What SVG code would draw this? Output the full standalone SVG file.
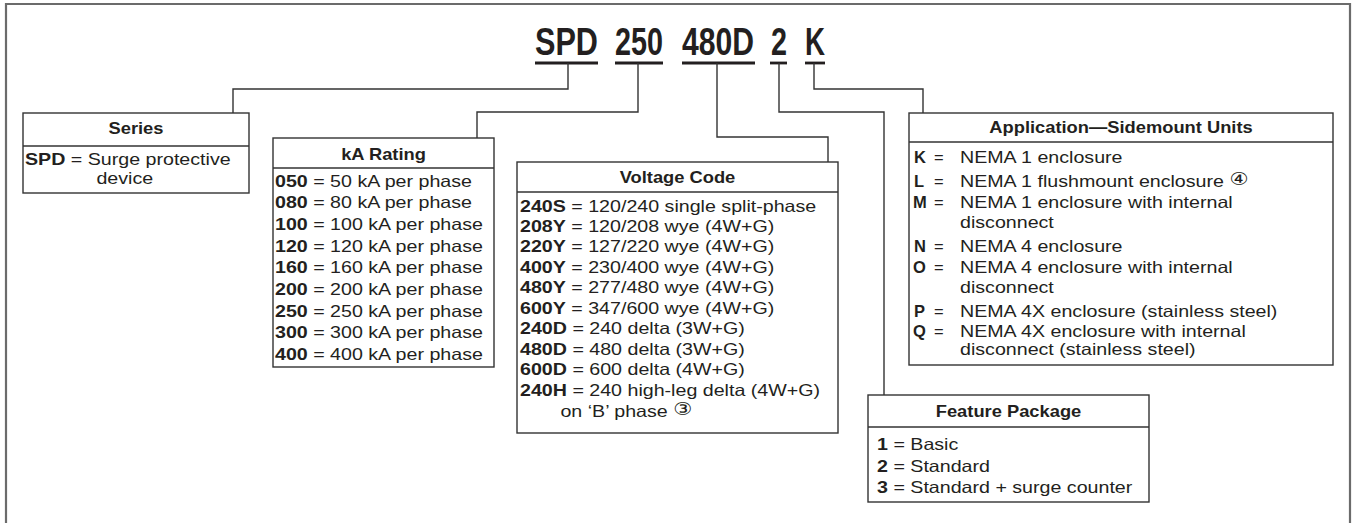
<svg xmlns="http://www.w3.org/2000/svg" width="1354" height="523" viewBox="0 0 1354 523">
<style>
.frame{fill:none;stroke:#6b6b6b;stroke-width:2.2}
.box{fill:#fff;stroke:#333;stroke-width:1.4}
.div{stroke:#333;stroke-width:1.4}
.conn{fill:none;stroke:#333;stroke-width:1.4}
.ul{stroke:#231f20;stroke-width:2.8}
.code{font-family:"Liberation Sans",Arial,sans-serif;font-weight:bold;font-size:38px;fill:#231f20}
.t{font-family:"Liberation Sans",Arial,sans-serif;font-size:16.5px;fill:#231f20}
.h{font-family:"Liberation Sans",Arial,sans-serif;font-size:16.5px;font-weight:bold;fill:#231f20;text-anchor:middle}
.b{font-weight:bold}
.note{font-family:"DejaVu Sans","Noto Sans CJK SC",sans-serif;font-size:18px}
</style>
<path class="frame" d="M6,530 V4 H1350 V530"/>
<g id="title">
<text class="code" x="535" y="55" textLength="63" lengthAdjust="spacingAndGlyphs">SPD</text>
<text class="code" x="615" y="55" textLength="48" lengthAdjust="spacingAndGlyphs">250</text>
<text class="code" x="682" y="55" textLength="72" lengthAdjust="spacingAndGlyphs">480D</text>
<text class="code" x="771" y="55" textLength="16" lengthAdjust="spacingAndGlyphs">2</text>
<text class="code" x="805" y="55" textLength="20" lengthAdjust="spacingAndGlyphs">K</text>
<line class="ul" x1="535" y1="63" x2="598" y2="63"/>
<line class="ul" x1="615" y1="63" x2="663" y2="63"/>
<line class="ul" x1="682" y1="63" x2="755" y2="63"/>
<line class="ul" x1="770" y1="63" x2="787" y2="63"/>
<line class="ul" x1="805" y1="63" x2="825" y2="63"/>
</g>
<g id="connectors">
<path class="conn" d="M568,63 V89 H233 V113"/>
<path class="conn" d="M638,63 V112 H477 V138"/>
<path class="conn" d="M717,63 V137 H828 V162"/>
<path class="conn" d="M779,63 V112 H884 V395"/>
<path class="conn" d="M814,63 V89 H923 V113"/>
</g>
<g id="series">
<rect class="box" x="23" y="113" width="226" height="80"/>
<line class="div" x1="23" y1="146" x2="249" y2="146"/>
<g transform="translate(136,0) scale(1.11,1)"><text class="h" x="0" y="134">Series</text></g>
<g transform="translate(25,0) scale(1.19,1)">
<text class="t" x="0" y="165"><tspan class="b">SPD</tspan> = Surge protective</text>
<text class="t" x="60" y="184">device</text>
</g>
</g>
<g id="ka-rating">
<rect class="box" x="273" y="138" width="221" height="229"/>
<line class="div" x1="273" y1="168" x2="494" y2="168"/>
<g transform="translate(383.5,0) scale(1.11,1)"><text class="h" x="0" y="160">kA Rating</text></g>
<g transform="translate(275,0) scale(1.19,1)">
<text class="t" x="0" y="187"><tspan class="b">050</tspan> = 50 kA per phase</text>
<text class="t" x="0" y="208.5"><tspan class="b">080</tspan> = 80 kA per phase</text>
<text class="t" x="0" y="230"><tspan class="b">100</tspan> = 100 kA per phase</text>
<text class="t" x="0" y="251.7"><tspan class="b">120</tspan> = 120 kA per phase</text>
<text class="t" x="0" y="273.3"><tspan class="b">160</tspan> = 160 kA per phase</text>
<text class="t" x="0" y="295"><tspan class="b">200</tspan> = 200 kA per phase</text>
<text class="t" x="0" y="316.7"><tspan class="b">250</tspan> = 250 kA per phase</text>
<text class="t" x="0" y="338.3"><tspan class="b">300</tspan> = 300 kA per phase</text>
<text class="t" x="0" y="360"><tspan class="b">400</tspan> = 400 kA per phase</text>
</g>
</g>
<g id="voltage-code">
<rect class="box" x="517" y="162" width="321" height="271"/>
<line class="div" x1="517" y1="192" x2="838" y2="192"/>
<g transform="translate(677.5,0) scale(1.11,1)"><text class="h" x="0" y="183">Voltage Code</text></g>
<g transform="translate(520,0) scale(1.19,1)">
<text class="t" x="0" y="212"><tspan class="b">240S</tspan> = 120/240 single split-phase</text>
<text class="t" x="0" y="232"><tspan class="b">208Y</tspan> = 120/208 wye (4W+G)</text>
<text class="t" x="0" y="252.5"><tspan class="b">220Y</tspan> = 127/220 wye (4W+G)</text>
<text class="t" x="0" y="273"><tspan class="b">400Y</tspan> = 230/400 wye (4W+G)</text>
<text class="t" x="0" y="293.5"><tspan class="b">480Y</tspan> = 277/480 wye (4W+G)</text>
<text class="t" x="0" y="314"><tspan class="b">600Y</tspan> = 347/600 wye (4W+G)</text>
<text class="t" x="0" y="334.5"><tspan class="b">240D</tspan> = 240 delta (3W+G)</text>
<text class="t" x="0" y="355"><tspan class="b">480D</tspan> = 480 delta (3W+G)</text>
<text class="t" x="0" y="375.5"><tspan class="b">600D</tspan> = 600 delta (4W+G)</text>
<text class="t" x="0" y="396"><tspan class="b">240H</tspan> = 240 high-leg delta (4W+G)</text>
<text class="t" x="34" y="417">on ‘B’ phase <tspan class="note" dy="-2">③</tspan></text>
</g>
</g>
<g id="application">
<rect class="box" x="909" y="113" width="424" height="252"/>
<line class="div" x1="909" y1="142" x2="1333" y2="142"/>
<g transform="translate(1121,0) scale(1.11,1)"><text class="h" x="0" y="133">Application—Sidemount Units</text></g>
<g>
<text class="t b" x="914" y="163">K</text><text class="t" x="934" y="163">=</text>
<text class="t b" x="914" y="187">L</text><text class="t" x="934" y="187">=</text>
<text class="t b" x="913" y="208">M</text><text class="t" x="934" y="208">=</text>
<text class="t b" x="914" y="252">N</text><text class="t" x="934" y="252">=</text>
<text class="t b" x="913" y="273">O</text><text class="t" x="934" y="273">=</text>
<text class="t b" x="914" y="317">P</text><text class="t" x="934" y="317">=</text>
<text class="t b" x="913" y="337">Q</text><text class="t" x="934" y="337">=</text>
</g>
<g transform="translate(960,0) scale(1.19,1)">
<text class="t" x="0" y="163">NEMA 1 enclosure</text>
<text class="t" x="0" y="187">NEMA 1 flushmount enclosure <tspan class="note" dy="-2">④</tspan></text>
<text class="t" x="0" y="208">NEMA 1 enclosure with internal</text>
<text class="t" x="0" y="228">disconnect</text>
<text class="t" x="0" y="252">NEMA 4 enclosure</text>
<text class="t" x="0" y="273">NEMA 4 enclosure with internal</text>
<text class="t" x="0" y="293">disconnect</text>
<text class="t" x="0" y="317">NEMA 4X enclosure (stainless steel)</text>
<text class="t" x="0" y="337">NEMA 4X enclosure with internal</text>
<text class="t" x="0" y="355">disconnect (stainless steel)</text>
</g>
</g>
<g id="feature-package">
<rect class="box" x="868" y="395" width="281" height="107"/>
<line class="div" x1="868" y1="427" x2="1149" y2="427"/>
<g transform="translate(1008.5,0) scale(1.11,1)"><text class="h" x="0" y="417">Feature Package</text></g>
<g transform="translate(877,0) scale(1.19,1)">
<text class="t" x="0" y="450"><tspan class="b">1</tspan> = Basic</text>
<text class="t" x="0" y="472"><tspan class="b">2</tspan> = Standard</text>
<text class="t" x="0" y="493"><tspan class="b">3</tspan> = Standard + surge counter</text>
</g>
</g>
</svg>
